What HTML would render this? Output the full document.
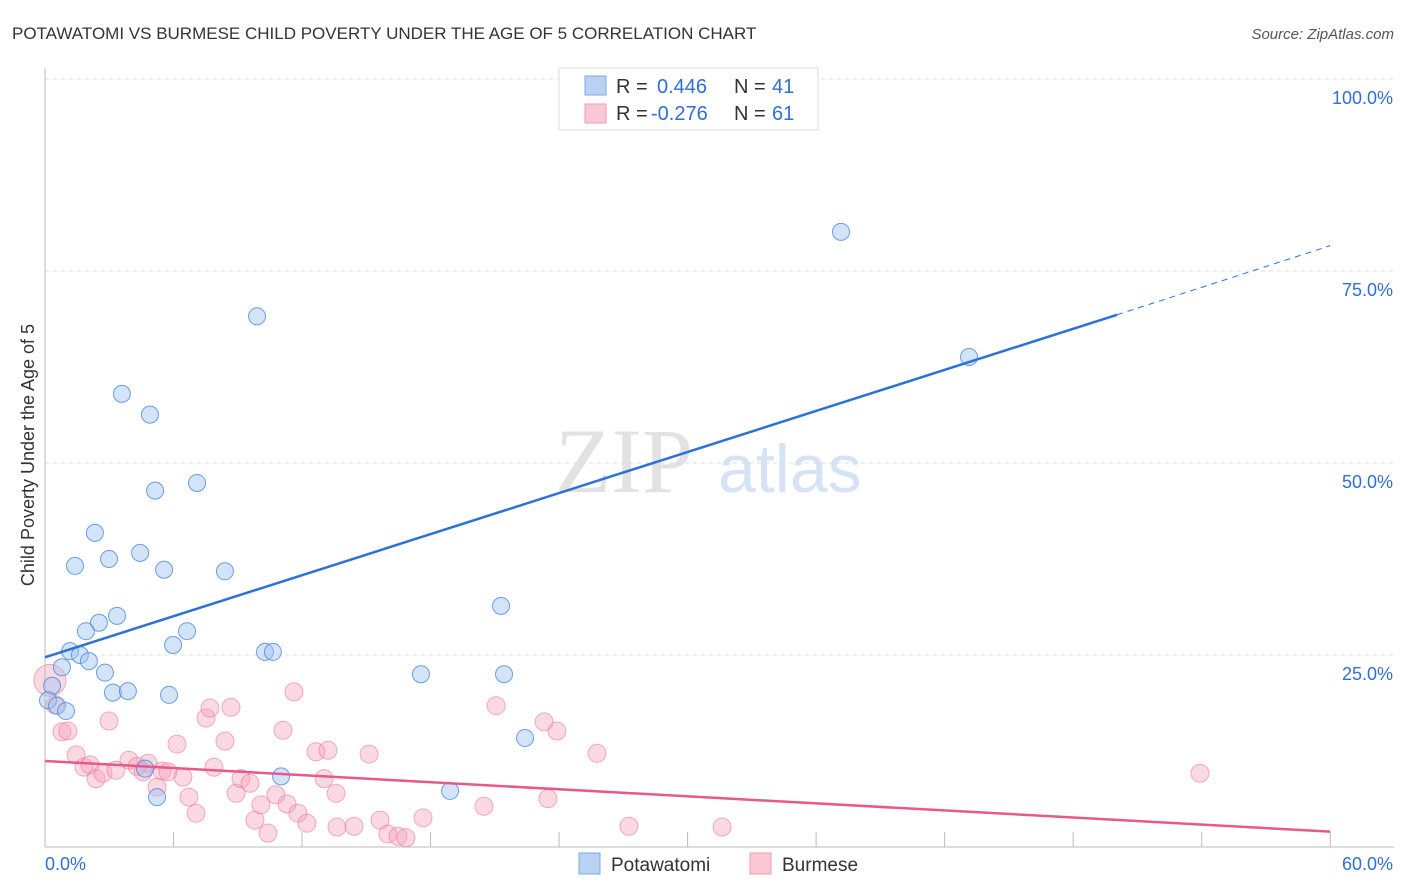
<!DOCTYPE html>
<html><head><meta charset="utf-8"><style>
body{margin:0;background:#fff;font-family:"Liberation Sans",sans-serif;}
#wrap{position:relative;width:1406px;height:892px;overflow:hidden;}
</style></head><body>
<div id="wrap">
<svg id="svg" width="1406" height="892" xmlns="http://www.w3.org/2000/svg" font-family="Liberation Sans, sans-serif">
<text x="12" y="39" font-size="17" fill="#333">POTAWATOMI VS BURMESE CHILD POVERTY UNDER THE AGE OF 5 CORRELATION CHART</text>
<text x="1394" y="39" font-size="15" fill="#555" text-anchor="end" font-style="italic">Source: ZipAtlas.com</text>
<text x="34" y="455" font-size="18" fill="#333" text-anchor="middle" transform="rotate(-90 34 455)">Child Poverty Under the Age of 5</text>
<text x="555" y="492" font-size="92" fill="#e2e2e2" font-family="Liberation Serif, serif">ZIP</text>
<text x="718" y="492" font-size="68" fill="#d5e3f5">atlas</text>
<g id="grid"></g><g id="marks"></g>
<g>
<rect x="559" y="68" width="259" height="62" fill="#fff" stroke="#ddd"/>
<rect x="585" y="76" width="21" height="19" fill="#b9d1f3" stroke="#7fa8e4"/>
<rect x="585" y="104" width="21" height="19" fill="#fbc9d6" stroke="#f09ab2"/>
<text x="616" y="93" font-size="20" fill="#333">R =</text><text x="657" y="93" font-size="20" fill="#2f6fd6">0.446</text>
<text x="734" y="93" font-size="20" fill="#333">N =</text><text x="772" y="93" font-size="20" fill="#2f6fd6">41</text>
<text x="616" y="120" font-size="20" fill="#333">R =</text><text x="651" y="120" font-size="20" fill="#2f6fd6">-0.276</text>
<text x="734" y="120" font-size="20" fill="#333">N =</text><text x="772" y="120" font-size="20" fill="#2f6fd6">61</text>
</g>
<g>
<rect x="579" y="853" width="21" height="21" fill="#b9d1f3" stroke="#7fa8e4"/>
<text x="611" y="871" font-size="19" fill="#333">Potawatomi</text>
<rect x="750" y="853" width="21" height="21" fill="#fbc9d6" stroke="#f09ab2"/>
<text x="782" y="871" font-size="19" fill="#333">Burmese</text>
</g>
</svg>
</div>
<script>
const xTicks=[0,6,12,18,24,30,36,42,48,54,60];
const yTicks=[25,50,75,100];
const yTickLabels=["25.0%","50.0%","75.0%","100.0%"];
const xAxisLabels=["0.0%","60.0%"];
const potX=[25.44,37.16,43.14,9.90,3.59,4.90,5.14,7.10,2.33,1.40,2.99,4.44,5.56,8.40,3.36,2.52,1.91,6.63,5.98,1.17,1.63,2.05,0.79,2.80,10.27,10.64,3.17,3.87,5.79,21.29,17.55,21.43,22.41,11.02,4.67,5.23,18.91,0.33,0.14,0.56,0.98];
const potY=[100,80.1,63.8,69.1,59.0,56.3,46.4,47.4,40.9,36.6,37.5,38.3,36.1,35.9,30.1,29.2,28.1,28.1,26.3,25.5,25.0,24.2,23.4,22.7,25.4,25.4,20.1,20.3,19.8,31.4,22.5,22.5,14.2,9.2,10.2,6.5,7.3,21.0,19.1,18.4,17.7];
const burX=[0.23,0.47,0.79,1.07,2.99,1.45,1.82,2.10,2.38,2.71,3.31,3.92,4.81,4.30,4.58,5.46,5.74,6.44,5.23,6.16,6.72,7.05,7.52,7.70,7.89,8.40,8.68,8.92,9.15,9.57,9.80,10.08,10.41,10.78,11.11,11.30,11.62,11.81,12.23,12.65,13.03,13.21,13.59,13.63,14.43,15.13,15.64,16.01,16.48,16.85,17.65,20.49,21.06,23.30,23.48,23.90,25.77,27.26,31.61,53.92];
const burY=[21.7,18.5,15.0,15.1,16.4,12.0,10.4,10.7,8.9,9.6,10.0,11.3,10.9,10.5,9.8,9.9,9.8,9.1,7.8,13.4,6.5,4.4,16.8,18.1,10.4,13.8,18.2,7.0,8.9,8.3,3.5,5.5,1.8,6.8,15.2,5.6,20.2,4.4,3.1,12.4,8.9,12.6,7.0,2.6,2.7,12.1,3.5,1.7,1.4,1.2,3.8,5.3,18.4,16.3,6.3,15.1,12.2,2.7,2.6,9.6];
const potTrend=[24.7,69.3,78.3]; // y at x=0, solid end x=50.05, dashed end x=60
const potTrendX=[0,50.05,60];
const burTrend=[11.2,2.0];
const burTrendX=[0,60];

const X=v=>45+v*21.42, Y=v=>847-v*7.68;
const NS="http://www.w3.org/2000/svg";
const grid=document.getElementById('grid'), marks=document.getElementById('marks');
function mk(tag,attrs,parent){const e=document.createElementNS(NS,tag);for(const k in attrs)e.setAttribute(k,attrs[k]);parent.appendChild(e);return e;}
yTicks.forEach((t,i)=>{
  const l=mk('line',{x1:45,x2:1394,y1:Y(t),y2:Y(t),stroke:'#ddd','stroke-dasharray':'4,4'},grid);
  
  
  const tx=mk('text',{x:1393,y:Y(t)+25,'font-size':18,fill:'#2f6fd6','text-anchor':'end'},grid);
  tx.textContent=yTickLabels[i];
  
  
});
const ax=mk('line',{x1:45,x2:45,y1:68,y2:847,stroke:'#bbb'},grid);


const bx=mk('line',{x1:45,x2:1394,y1:847,y2:847,stroke:'#bbb'},grid);


xTicks.slice(1).forEach(t=>{
  const l=mk('line',{x1:X(t),x2:X(t),y1:832,y2:847,stroke:'#bbb'},grid);
  
  
});
[[0,'start',45],[60,'end',1393]].forEach((d,i)=>{
  const tx=mk('text',{x:d[2],y:870,'font-size':18,fill:'#2f6fd6','text-anchor':d[1]},grid);
  tx.textContent=xAxisLabels[i];
  
  
});
burX.forEach((x,i)=>{
  const c=mk('circle',{cx:X(x),cy:Y(burY[i]),r:i===0?16:9,fill:'rgba(246,160,186,0.4)',stroke:'rgba(234,120,155,0.6)','stroke-width':1},marks);
  
  
});
potX.forEach((x,i)=>{
  const c=mk('circle',{cx:X(x),cy:Y(potY[i]),r:8.5,fill:'rgba(160,196,240,0.45)',stroke:'rgba(60,130,220,0.75)','stroke-width':1},marks);
  
  
});
const bl=mk('line',{x1:X(burTrendX[0]),y1:Y(burTrend[0]),x2:X(burTrendX[1]),y2:Y(burTrend[1]),stroke:'#e8588a','stroke-width':2.5},marks);


const pl=mk('line',{x1:X(potTrendX[0]),y1:Y(potTrend[0]),x2:X(potTrendX[1]),y2:Y(potTrend[1]),stroke:'#2a72d8','stroke-width':2.5},marks);


const pd=mk('line',{x1:X(potTrendX[1]),y1:Y(potTrend[1]),x2:X(potTrendX[2]),y2:Y(potTrend[2]),stroke:'#2a72d8','stroke-width':1,'stroke-dasharray':'6,5'},marks);


</script>
</body></html>
